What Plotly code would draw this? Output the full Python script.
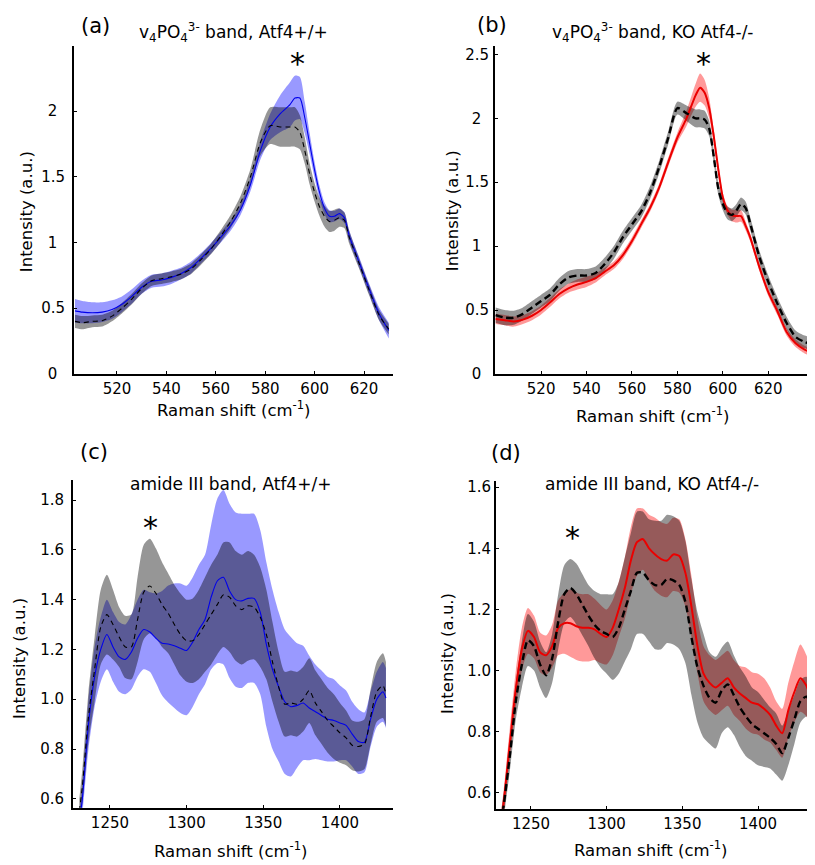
import plotly.graph_objects as go

# ---------------- data ----------------
# (a) v4PO4 band, Atf4+/+
x_a = [503, 506, 510, 514, 518, 522, 526, 530, 534, 538,
       542, 546, 550, 554, 558, 562, 566, 570, 574, 578,
       582, 586, 590, 592, 594, 596, 598, 600, 602, 604,
       606, 608, 610, 612, 614, 618, 622, 626, 630]
wt_mean_a = [0.48, 0.47, 0.465, 0.47, 0.49, 0.53, 0.59, 0.66, 0.705, 0.715,
             0.735, 0.765, 0.81, 0.88, 0.955, 1.04, 1.13, 1.25, 1.44, 1.70,
             1.88, 1.98, 2.05, 2.10, 2.10, 1.95, 1.75, 1.55, 1.38, 1.26,
             1.20, 1.20, 1.22, 1.19, 1.05, 0.85, 0.65, 0.46, 0.33]
wt_std_a = [0.09, 0.085, 0.08, 0.075, 0.07, 0.06, 0.055, 0.05, 0.05, 0.05,
            0.05, 0.045, 0.045, 0.04, 0.04, 0.04, 0.04, 0.04, 0.05, 0.07,
            0.10, 0.14, 0.17, 0.17, 0.16, 0.12, 0.08, 0.06, 0.05, 0.045,
            0.045, 0.04, 0.04, 0.04, 0.04, 0.04, 0.04, 0.05, 0.06]
ref_mean_a = [0.40, 0.39, 0.40, 0.405, 0.44, 0.50, 0.57, 0.65, 0.71, 0.725,
              0.74, 0.76, 0.80, 0.87, 0.95, 1.05, 1.16, 1.30, 1.50, 1.76,
              1.89, 1.88, 1.88, 1.88, 1.84, 1.70, 1.52, 1.38, 1.27, 1.20,
              1.16, 1.17, 1.19, 1.17, 1.04, 0.84, 0.64, 0.45, 0.34]
ref_std_a = [0.05, 0.05, 0.045, 0.045, 0.04, 0.04, 0.04, 0.04, 0.04, 0.04,
             0.04, 0.04, 0.04, 0.04, 0.04, 0.045, 0.05, 0.055, 0.06, 0.10,
             0.14, 0.15, 0.15, 0.15, 0.13, 0.10, 0.08, 0.07, 0.07, 0.08,
             0.08, 0.08, 0.07, 0.06, 0.05, 0.04, 0.04, 0.04, 0.04]

# (b) v4PO4 band, KO Atf4-/-
x_b = [500, 504, 508, 512, 516, 520, 524, 528, 532, 536,
       540, 544, 548, 552, 556, 560, 564, 568, 572, 576,
       580, 584, 588, 590, 592, 594, 596, 598, 600, 602,
       604, 606, 608, 610, 612, 616, 620, 624, 628, 632,
       636, 640]
ko_mean_b = [0.43, 0.42, 0.41, 0.425, 0.455, 0.50, 0.56, 0.625, 0.67, 0.70,
             0.72, 0.75, 0.80, 0.85, 0.93, 1.04, 1.17, 1.30, 1.46, 1.66,
             1.85, 2.00, 2.18, 2.24, 2.20, 2.08, 1.86, 1.60, 1.38, 1.28,
             1.24, 1.235, 1.235, 1.16, 1.07, 0.84, 0.64, 0.49, 0.33, 0.24,
             0.19, 0.16]
ko_std_b = [0.04, 0.04, 0.04, 0.035, 0.035, 0.035, 0.035, 0.035, 0.035, 0.04,
            0.04, 0.035, 0.03, 0.03, 0.03, 0.03, 0.03, 0.03, 0.03, 0.035,
            0.04, 0.06, 0.09, 0.11, 0.10, 0.08, 0.05, 0.04, 0.035, 0.035,
            0.045, 0.05, 0.045, 0.035, 0.03, 0.03, 0.03, 0.03, 0.03, 0.03,
            0.03, 0.03]
ref_mean_b = [0.46, 0.44, 0.44, 0.47, 0.52, 0.57, 0.62, 0.70, 0.755, 0.77,
              0.77, 0.79, 0.86, 0.95, 1.07, 1.17, 1.27, 1.42, 1.62, 1.85,
              2.08, 2.04, 2.00, 2.00, 1.99, 1.92, 1.70, 1.45, 1.33, 1.26,
              1.245, 1.28, 1.33, 1.30, 1.18, 0.92, 0.72, 0.55, 0.40, 0.29,
              0.25, 0.23]
ref_std_b = [0.06, 0.06, 0.055, 0.05, 0.05, 0.05, 0.05, 0.05, 0.05, 0.05,
             0.05, 0.05, 0.05, 0.05, 0.05, 0.05, 0.05, 0.05, 0.05, 0.05,
             0.05, 0.06, 0.07, 0.07, 0.07, 0.06, 0.05, 0.05, 0.05, 0.05,
             0.05, 0.05, 0.05, 0.05, 0.05, 0.05, 0.05, 0.05, 0.05, 0.05,
             0.05, 0.05]

# (c) amide III band, Atf4+/+
x_c = [1230, 1232, 1236, 1240, 1244, 1248, 1252, 1256, 1260, 1264,
       1268, 1272, 1276, 1280, 1284, 1288, 1292, 1296, 1300, 1304,
       1308, 1312, 1316, 1320, 1324, 1328, 1332, 1336, 1340, 1344,
       1348, 1352, 1356, 1360, 1364, 1368, 1372, 1376, 1380, 1384,
       1388, 1392, 1396, 1400, 1404, 1408, 1412, 1416, 1420, 1424,
       1428, 1430]
wt_mean_c = [0.50, 0.60, 0.90, 1.09, 1.20, 1.26, 1.21, 1.17, 1.16, 1.19,
             1.245, 1.28, 1.27, 1.245, 1.225, 1.222, 1.215, 1.205, 1.196, 1.23,
             1.28, 1.32, 1.41, 1.475, 1.49, 1.435, 1.40, 1.395, 1.405, 1.405,
             1.35, 1.22, 1.12, 1.05, 0.99, 0.97, 0.975, 0.985, 0.965, 0.95,
             0.935, 0.92, 0.915, 0.905, 0.895, 0.86, 0.83, 0.827, 0.92, 1.00,
             1.03, 1.005]
wt_std_c = [0.05, 0.06, 0.10, 0.12, 0.13, 0.14, 0.14, 0.14, 0.14, 0.15,
            0.155, 0.16, 0.16, 0.18, 0.21, 0.235, 0.25, 0.26, 0.26, 0.26,
            0.26, 0.26, 0.29, 0.33, 0.35, 0.35, 0.35, 0.35, 0.34, 0.34,
            0.33, 0.33, 0.32, 0.30, 0.29, 0.28, 0.25, 0.23, 0.21, 0.19,
            0.18, 0.17, 0.165, 0.15, 0.14, 0.13, 0.13, 0.12, 0.11, 0.11,
            0.12, 0.12]
ref_mean_c = [0.55, 0.65, 0.93, 1.12, 1.29, 1.34, 1.30, 1.25, 1.21, 1.21,
              1.32, 1.43, 1.455, 1.425, 1.38, 1.345, 1.30, 1.26, 1.235, 1.235,
              1.26, 1.30, 1.34, 1.38, 1.42, 1.41, 1.375, 1.36, 1.375, 1.37,
              1.33, 1.26, 1.15, 1.05, 0.98, 0.985, 0.98, 1.00, 1.035, 0.985,
              0.95, 0.915, 0.89, 0.865, 0.845, 0.815, 0.81, 0.82, 0.93, 1.03,
              1.055, 1.02]
ref_std_c = [0.05, 0.07, 0.10, 0.13, 0.15, 0.16, 0.14, 0.12, 0.125, 0.13,
             0.17, 0.19, 0.19, 0.18, 0.17, 0.16, 0.16, 0.165, 0.165, 0.17,
             0.18, 0.19, 0.20, 0.20, 0.21, 0.22, 0.22, 0.22, 0.22, 0.21,
             0.20, 0.18, 0.16, 0.14, 0.13, 0.13, 0.13, 0.13, 0.13, 0.13,
             0.13, 0.13, 0.13, 0.12, 0.11, 0.10, 0.10, 0.10, 0.11, 0.12,
             0.13, 0.13]

# (d) amide III band, KO Atf4-/-
x_d = [1230, 1232, 1236, 1240, 1244, 1248, 1252, 1256, 1260, 1264,
       1268, 1272, 1276, 1280, 1284, 1288, 1292, 1296, 1300, 1304,
       1308, 1312, 1316, 1320, 1324, 1328, 1332, 1336, 1340, 1344,
       1348, 1352, 1356, 1360, 1364, 1368, 1372, 1376, 1380, 1384,
       1388, 1392, 1396, 1400, 1404, 1408, 1412, 1416, 1420, 1424,
       1428, 1432, 1436]
ko_mean_d = [0.50, 0.57, 0.76, 0.94, 1.07, 1.13, 1.11, 1.06, 1.05, 1.08,
             1.14, 1.155, 1.155, 1.145, 1.14, 1.14, 1.135, 1.12, 1.11, 1.14,
             1.20, 1.27, 1.36, 1.42, 1.43, 1.40, 1.38, 1.365, 1.36, 1.38,
             1.375, 1.32, 1.21, 1.08, 0.99, 0.96, 0.945, 0.96, 0.975, 0.945,
             0.925, 0.91, 0.895, 0.89, 0.875, 0.855, 0.82, 0.795, 0.87, 0.93,
             0.975, 0.95, 0.89]
ko_std_d = [0.03, 0.04, 0.05, 0.06, 0.07, 0.075, 0.07, 0.065, 0.065, 0.07,
            0.09, 0.10, 0.11, 0.11, 0.11, 0.11, 0.10, 0.095, 0.09, 0.09,
            0.09, 0.10, 0.11, 0.11, 0.10, 0.11, 0.12, 0.12, 0.12, 0.12,
            0.12, 0.11, 0.10, 0.09, 0.09, 0.09, 0.09, 0.09, 0.09, 0.09,
            0.09, 0.10, 0.10, 0.10, 0.10, 0.09, 0.08, 0.08, 0.09, 0.10,
            0.11, 0.10, 0.10]
ref_mean_d = [0.50, 0.56, 0.72, 0.90, 1.02, 1.10, 1.08, 1.02, 0.985, 1.04,
              1.16, 1.25, 1.27, 1.25, 1.215, 1.18, 1.15, 1.13, 1.12, 1.11,
              1.14, 1.20, 1.26, 1.32, 1.32, 1.295, 1.28, 1.28, 1.30, 1.295,
              1.28, 1.225, 1.11, 1.01, 0.95, 0.91, 0.895, 0.935, 0.955, 0.92,
              0.88, 0.85, 0.825, 0.81, 0.795, 0.78, 0.76, 0.73, 0.78, 0.84,
              0.90, 0.915, 0.875]
ref_std_d = [0.03, 0.04, 0.05, 0.06, 0.075, 0.085, 0.08, 0.075, 0.075, 0.08,
             0.09, 0.095, 0.095, 0.10, 0.10, 0.10, 0.11, 0.12, 0.13, 0.14,
             0.15, 0.17, 0.19, 0.20, 0.20, 0.20, 0.21, 0.21, 0.21, 0.21,
             0.21, 0.20, 0.19, 0.18, 0.17, 0.15, 0.15, 0.14, 0.14, 0.13,
             0.13, 0.13, 0.12, 0.12, 0.11, 0.10, 0.10, 0.09, 0.09, 0.08,
             0.07, 0.065, 0.06]

titles = ["v<sub>4</sub>PO<sub>4</sub><sup>3-</sup> band, Atf4+/+",
          "v<sub>4</sub>PO<sub>4</sub><sup>3-</sup> band, KO Atf4-/-",
          "amide III band, Atf4+/+",
          "amide III band, KO Atf4-/-"]
labels = ["(a)", "(b)", "(c)", "(d)"]
xticks_ab = [520, 540, 560, 580, 600, 620]
xticks_cd = [1250, 1300, 1350, 1400]
yticks_a = [0, 0.5, 1, 1.5, 2]
yticks_b = [0, 0.5, 1, 1.5, 2, 2.5]
yticks_c = [0.6, 0.8, 1.0, 1.2, 1.4, 1.6, 1.8]
yticks_d = [0.6, 0.8, 1.0, 1.2, 1.4, 1.6]

# ---------------- layout helpers ----------------
W, H = 815, 865
FONT = "DejaVu Sans"
PAD = "\u2008\u2009"   # pads short labels so tick labels look centred


def fx(p):
    return p / W


def fy(p):
    return 1 - p / H


def tick_text(vals, fmt):
    out = []
    for v in vals:
        s = format(v, fmt) if fmt else ("%g" % v)
        if not fmt and len(s) == 1:
            s = s + PAD
        out.append(s)
    return out


panels = [
    dict(x=x_a, m1=wt_mean_a, s1=wt_std_a, m2=ref_mean_a, s2=ref_std_a,
         col="blue", box=(66, 385, 35, 368), xr=[502.6, 631.7], yr=[0, 2.5],
         xt=xticks_ab, yt=yticks_a, yfmt="", thick=False, standoff=4),
    dict(x=x_b, m1=ko_mean_b, s1=ko_std_b, m2=ref_mean_b, s2=ref_std_b,
         col="red", box=(487, 808, 35, 368), xr=[499.7, 641], yr=[0, 2.57],
         xt=xticks_ab, yt=yticks_b, yfmt="", thick=True, standoff=1),
    dict(x=x_c, m1=wt_mean_c, s1=wt_std_c, m2=ref_mean_c, s2=ref_std_c,
         col="blue", box=(65, 385, 476, 808), xr=[1225.9, 1434.6], yr=[0.564, 1.879],
         xt=xticks_cd, yt=yticks_c, yfmt=".1f", thick=False, standoff=4),
    dict(x=x_d, m1=ko_mean_d, s1=ko_std_d, m2=ref_mean_d, s2=ref_std_d,
         col="red", box=(488, 808, 477, 809), xr=[1226.9, 1438.3], yr=[0.548, 1.619],
         xt=xticks_cd, yt=yticks_d, yfmt=".1f", thick=True, standoff=0),
]

fig = go.Figure()
layout = dict(width=W, height=H, margin=dict(l=0, r=0, t=0, b=0),
              paper_bgcolor="white", plot_bgcolor="white", showlegend=False,
              font=dict(family=FONT, size=15, color="black"))

SM = 0.7
for i, p in enumerate(panels):
    n = len(p["x"])
    assert all(len(p[k]) == n for k in ("m1", "s1", "m2", "s2")), (i, [len(p[k]) for k in ("m1", "s1", "m2", "s2")])
    suf = "" if i == 0 else str(i + 1)
    xref, yref = "x" + suf, "y" + suf
    x = list(p["x"])
    fill1 = "rgba(0,0,255,0.4)" if p["col"] == "blue" else "rgba(255,0,0,0.4)"
    line1 = "rgb(0,0,235)" if p["col"] == "blue" else "rgb(235,0,0)"
    up1 = [m + s for m, s in zip(p["m1"], p["s1"])]
    lo1 = [m - s for m, s in zip(p["m1"], p["s1"])]
    up2 = [m + s for m, s in zip(p["m2"], p["s2"])]
    lo2 = [m - s for m, s in zip(p["m2"], p["s2"])]
    # shaded band of the group (blue / red)
    fig.add_trace(go.Scatter(x=x, y=lo1, mode="lines", line=dict(width=0, shape="spline", smoothing=SM),
                             hoverinfo="skip", xaxis=xref, yaxis=yref))
    fig.add_trace(go.Scatter(x=x, y=up1, mode="lines", fill="tonexty", fillcolor=fill1,
                             line=dict(width=0, shape="spline", smoothing=SM),
                             hoverinfo="skip", xaxis=xref, yaxis=yref))
    # shaded band of the reference (grey)
    fig.add_trace(go.Scatter(x=x, y=lo2, mode="lines", line=dict(width=0, shape="spline", smoothing=SM),
                             hoverinfo="skip", xaxis=xref, yaxis=yref))
    fig.add_trace(go.Scatter(x=x, y=up2, mode="lines", fill="tonexty", fillcolor="rgba(0,0,0,0.41)",
                             line=dict(width=0, shape="spline", smoothing=SM),
                             hoverinfo="skip", xaxis=xref, yaxis=yref))
    lw = 2.0 if p["thick"] else 1.1
    dash = "7px,4px" if p["thick"] else "5px,4px"
    fig.add_trace(go.Scatter(x=x, y=p["m1"], mode="lines",
                             line=dict(color=line1, width=lw, shape="spline", smoothing=SM),
                             xaxis=xref, yaxis=yref))
    fig.add_trace(go.Scatter(x=x, y=p["m2"], mode="lines",
                             line=dict(color="black", width=lw + (0.4 if p["thick"] else 0), dash=dash,
                                       shape="spline", smoothing=SM),
                             xaxis=xref, yaxis=yref))
    x0, x1, y0, y1 = p["box"]
    layout["xaxis" + suf] = dict(domain=[fx(x0), fx(x1)], range=p["xr"], anchor=yref,
                                 showline=True, linecolor="black", linewidth=2,
                                 showgrid=False, zeroline=False, ticks="inside", ticklen=3,
                                 tickcolor="black", tickvals=p["xt"],
                                 tickfont=dict(family=FONT, size=15, color="black"))
    layout["yaxis" + suf] = dict(domain=[fy(y1), fy(y0)], range=p["yr"], anchor=xref,
                                 showline=True, linecolor="black", linewidth=2,
                                 showgrid=False, zeroline=False, ticks="inside", ticklen=3,
                                 tickcolor="black", tickvals=p["yt"],
                                 ticktext=tick_text(p["yt"], p["yfmt"]),
                                 ticklabelstandoff=p["standoff"],
                                 tickfont=dict(family=FONT, size=15, color="black"))

fig.update_layout(**layout)

ann = []


def add_text(text, x, y, size, angle=0, xanchor="center", yanchor="middle"):
    ann.append(dict(text=text, x=fx(x), y=fy(y), xref="paper", yref="paper",
                    showarrow=False, font=dict(family=FONT, size=size, color="black"),
                    textangle=angle, xanchor=xanchor, yanchor=yanchor))


# panel labels
for lab, (xx, yy) in zip(labels, [(87, 15), (484, 14), (86, 447), (498, 448)]):
    add_text(lab, xx, yy, 21)
# panel titles
for t, (xx, yy) in zip(titles, [(225, 22), (645, 22), (223, 480), (644, 480)]):
    add_text(t, xx, yy, 17)
# axis titles
xlab = "Raman shift (cm<sup>-1</sup>)"
ylab = "Intensity (a.u.)"
for xx, yy in [(226, 404), (645, 410), (223, 851), (643, 850)]:
    add_text(xlab, xx, yy, 16.5)
for xx, yy in [(18, 204), (444, 202), (12, 657), (440, 652)]:
    add_text(ylab, xx, yy, 16.5, angle=-90)
# significance asterisks
for xx, yy in [(289, 53), (695, 53), (142, 524), (564, 534)]:
    add_text("*", xx, yy, 30)

fig.update_layout(annotations=ann)
fig.write_html("out.html")
